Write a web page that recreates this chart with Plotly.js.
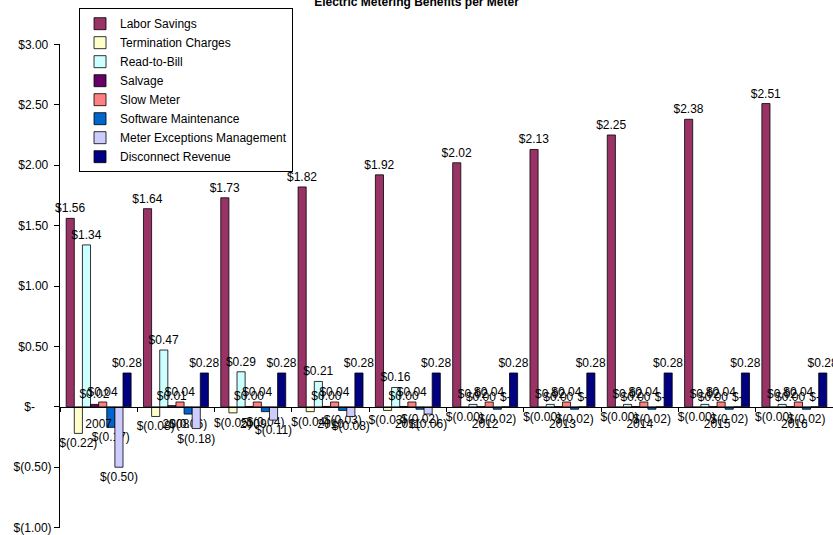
<!DOCTYPE html>
<html>
<head>
<meta charset="utf-8">
<script src="https://cdn.plot.ly/plotly-3.0.1.min.js"></script>
<style>html,body{margin:0;padding:0;background:#fff;}#chart{width:833px;height:535px;}</style>
</head>
<body>
<div id="chart"></div>
<script>
const years = ['2007','2008','2009','2010','2011','2012','2013','2014','2015','2016'];
const laborSavings        = [1.56, 1.64, 1.73, 1.82, 1.92, 2.02, 2.13, 2.25, 2.38, 2.51];
const terminationCharges  = [-0.22, -0.08, -0.05, -0.04, -0.03, -0.004, -0.004, -0.004, -0.004, -0.004];
const readToBill          = [1.34, 0.47, 0.29, 0.21, 0.16, 0.02, 0.02, 0.02, 0.02, 0.02];
const salvage             = [0.02, 0.01, 0.003, 0.003, 0.003, 0.002, 0.002, 0.002, 0.002, 0.002];
const slowMeter           = [0.04, 0.04, 0.04, 0.04, 0.04, 0.04, 0.04, 0.04, 0.04, 0.04];
const softwareMaintenance = [-0.17, -0.06, -0.04, -0.03, -0.02, -0.02, -0.02, -0.02, -0.02, -0.02];
const meterExceptions     = [-0.50, -0.18, -0.11, -0.08, -0.06, 0, 0, 0, 0, 0];
const disconnectRevenue   = [0.28, 0.28, 0.28, 0.28, 0.28, 0.28, 0.28, 0.28, 0.28, 0.28];

const seriesNames = ['Labor Savings','Termination Charges','Read-to-Bill','Salvage','Slow Meter','Software Maintenance','Meter Exceptions Management','Disconnect Revenue'];
const seriesValues = [laborSavings, terminationCharges, readToBill, salvage, slowMeter, softwareMaintenance, meterExceptions, disconnectRevenue];
const seriesColors = ['#993366','#FFFFCC','#CCFFFF','#660066','#FF8080','#0066CC','#CCCCFF','#000080'];

const yTickVals = [3, 2.5, 2, 1.5, 1, 0.5, 0, -0.5, -1];
const NB = '\u00a0';
const yTickText = ['$3.00'+NB, '$2.50'+NB, '$2.00'+NB, '$1.50'+NB, '$1.00'+NB, '$0.50'+NB, '$-'+NB+NB+NB+NB+NB, '$(0.50)', '$(1.00)'];

function fmt(v){
  if (v === 0) return '$-';
  const a = (Math.round(Math.abs(v)*100)/100).toFixed(2);
  return v < 0 ? '$(' + a + ')' : '$' + a;
}

const traces = seriesNames.map((name, i) => ({
  type: 'bar',
  name: name,
  x: years,
  y: seriesValues[i],
  text: seriesValues[i].map(fmt),
  textposition: 'outside',
  textangle: 0,
  constraintext: 'none',
  cliponaxis: false,
  textfont: {family: 'Arial, Liberation Sans, sans-serif', size: 12, color: '#000'},
  marker: {color: seriesColors[i], line: {color: '#000', width: 0.8}},
  hoverinfo: 'none'
}));

const yMin = -1.003, yMax = 3.003;

const layout = {
  width: 833, height: 535,
  margin: {l: 60, r: 0, t: 44, b: 7, pad: 0},
  paper_bgcolor: '#fff', plot_bgcolor: '#fff',
  font: {family: 'Arial, Liberation Sans, sans-serif', size: 12, color: '#000'},
  title: {
    text: 'Electric Metering Benefits per Meter',
    font: {size: 12, weight: 'bold', color: '#000'},
    xref: 'container', x: 0.5, xanchor: 'center',
    yref: 'container', y: 0.997, yanchor: 'middle'
  },
  barmode: 'group', bargap: 0.16, bargroupgap: 0,
  showlegend: true,
  legend: {
    x: 0.0246, xanchor: 'left', y: 1.074, yanchor: 'top',
    bordercolor: '#000', borderwidth: 1, bgcolor: '#fff',
    font: {size: 12}, traceorder: 'normal', itemwidth: 30,
    itemclick: false, itemdoubleclick: false
  },
  xaxis: {
    type: 'category',
    anchor: 'free', position: (0 - yMin) / (yMax - yMin),
    showline: true, linecolor: '#000', linewidth: 1,
    ticks: 'outside', tickson: 'boundaries', ticklen: 4, tickcolor: '#000',
    ticklabelstandoff: 6,
    showgrid: false, zeroline: false,
    tickfont: {size: 12}
  },
  yaxis: {
    range: [yMin, yMax],
    tickmode: 'array',
    tickvals: yTickVals, ticktext: yTickText,
    ticks: 'outside', ticklen: 5, tickcolor: '#000',
    showline: true, linecolor: '#000', linewidth: 1,
    showgrid: false, zeroline: false,
    tickfont: {size: 12}
  }
};

Plotly.newPlot('chart', traces, layout, {staticPlot: true, displayModeBar: false});
</script>
</body>
</html>
